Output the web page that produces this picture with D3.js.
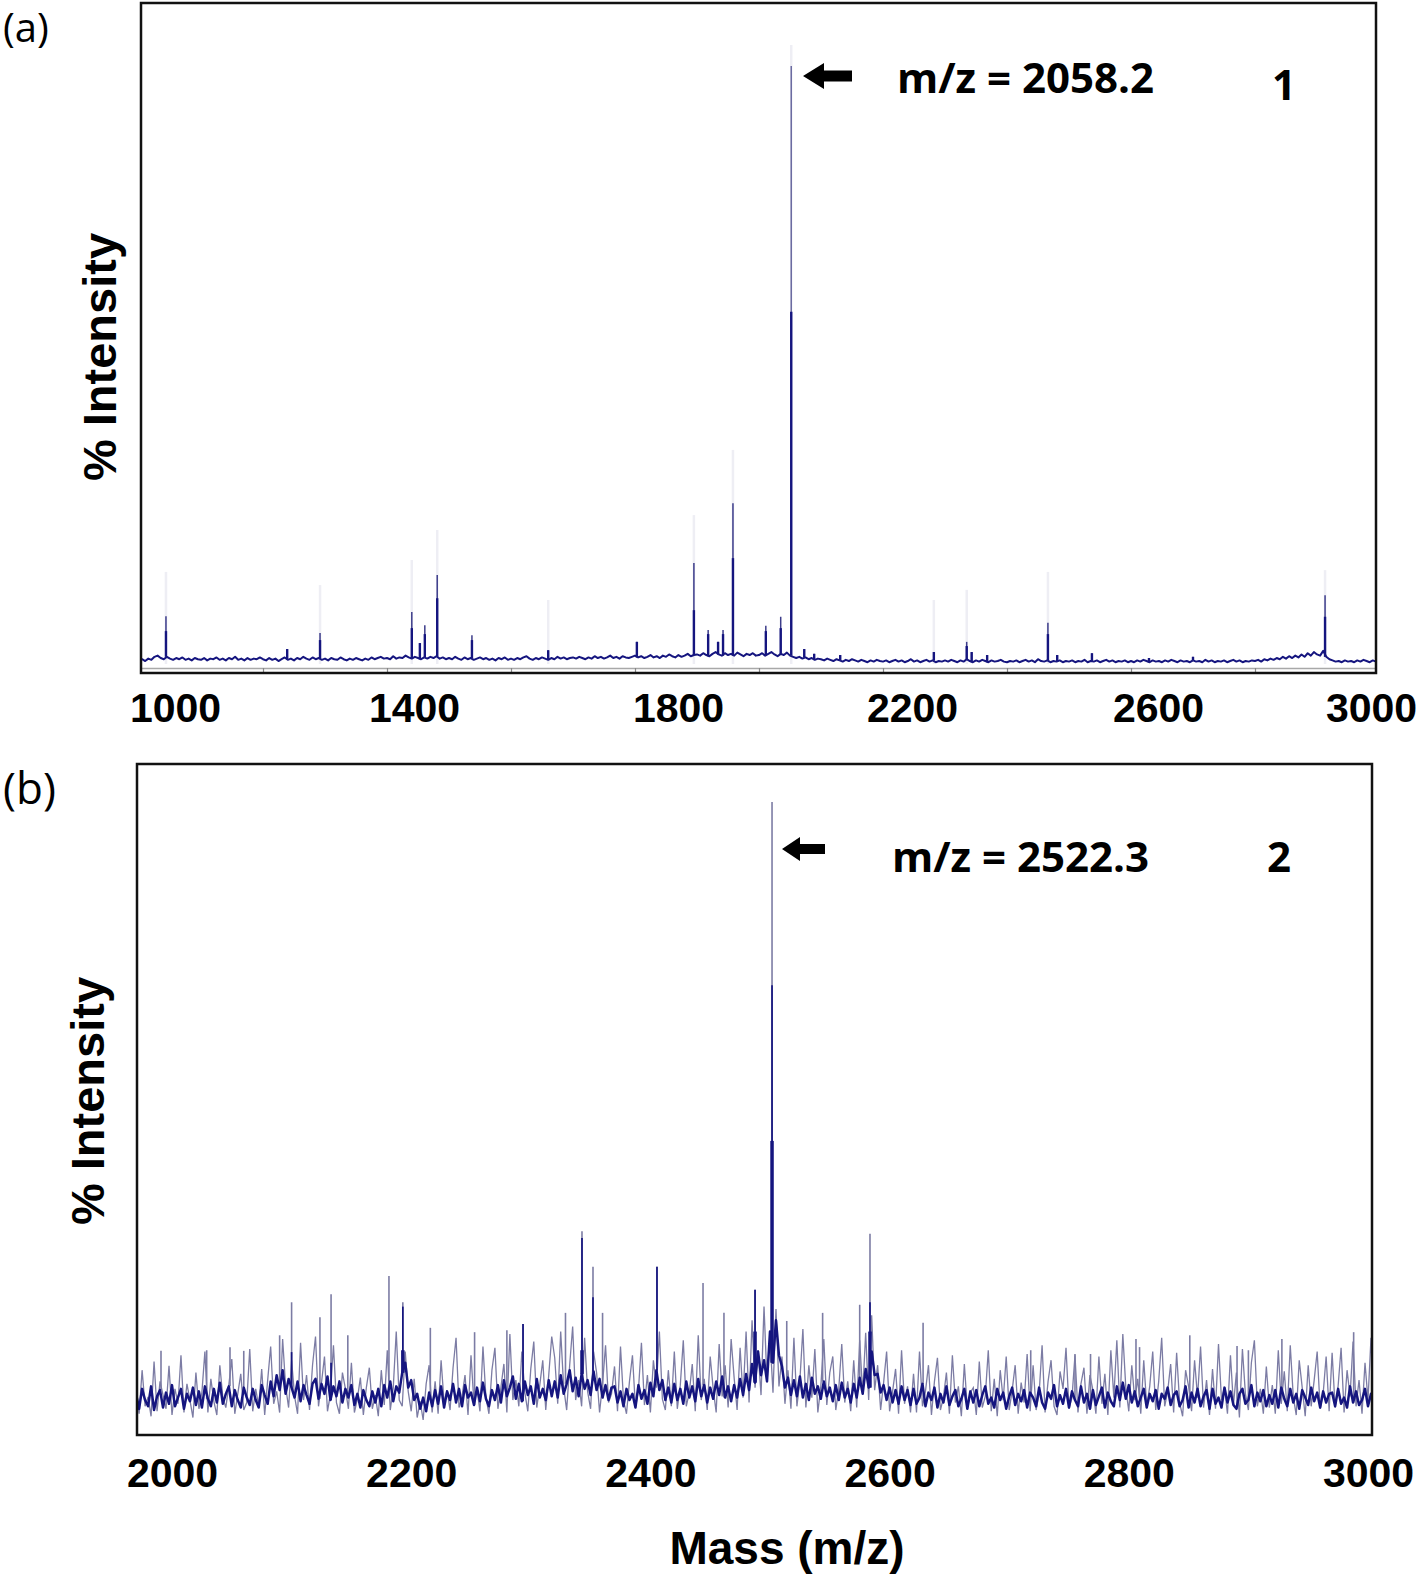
<!DOCTYPE html>
<html><head><meta charset="utf-8">
<script src="https://cdn.jsdelivr.net/npm/d3@7"></script>
<style>body{margin:0;background:#fff}svg{display:block}</style>
</head><body>
<svg id="c" width="1418" height="1576"></svg>
<script>
// ---------------- DATA ----------------
// Panel (a): tick labels of the printed axis
const aTicks = [1000, 1400, 1800, 2200, 2600, 3000];
// inner instrument axis ticks (unlabelled)
const aInnerTicks = [1200, 1400, 1600, 1800, 2000, 2200, 2400, 2600, 2800];
// baseline trace, m/z from 1000 step 5, intensity in per-mille of base peak
const aStart = 1000, aStep = 5;
const aBase = [
6,8,5,9,7,12,14,10,8,12,9,7,10,8,11,7,9,6,10,8,
7,10,6,9,8,11,7,9,6,10,8,12,7,9,6,10,7,9,8,11,
8,6,10,7,9,5,8,11,7,9,6,10,8,12,9,7,11,8,10,7,
9,6,10,8,7,11,8,6,9,7,10,8,6,9,7,11,8,10,12,9,
10,8,13,9,11,10,14,11,9,12,10,8,11,9,12,10,13,9,11,8,
10,8,12,9,7,11,8,10,7,9,11,8,10,7,9,6,10,8,11,7,
9,7,10,8,11,13,9,7,10,8,11,9,7,10,8,12,9,11,8,10,
11,9,12,10,8,11,9,13,10,12,9,11,14,10,12,9,13,11,10,12,
14,11,13,10,12,15,11,13,10,14,12,16,13,11,15,12,14,17,13,15,
16,14,18,15,13,17,20,16,14,18,15,17,14,19,16,13,17,15,18,14,
15,18,14,17,20,16,13,17,15,19,14,12,10,12,9,11,8,10,7,9,
8,6,9,7,5,8,6,4,7,5,8,6,4,7,5,3,6,4,7,5,
4,6,3,5,7,4,6,3,5,8,4,6,3,5,7,4,6,3,5,4,
6,4,7,5,3,6,4,8,5,3,6,4,7,5,3,6,4,5,7,4,
3,5,4,6,3,5,7,4,6,3,8,5,4,6,3,5,4,6,3,5,
4,6,3,5,4,7,3,5,4,6,3,5,7,4,6,3,5,4,6,3,
5,3,6,4,7,5,3,6,4,5,3,6,4,7,5,3,6,4,5,3,
6,4,5,3,7,4,6,3,5,4,6,3,5,7,4,6,3,5,4,6,
5,7,4,8,6,9,7,10,8,12,9,13,10,14,11,16,12,18,14,20,
16,14,22,12,8,6,4,5,3,6,4,5,3,6,4,7,5,3,6,4,
5];
// peaks of panel (a)
const aPeakMz   = [1043.5,1239,1292,1440,1453,1461,1481,1537,1660,1803,1895,1918,1934,1942,1958,2011,2035,2052,2073,2089,2131,2282,2335,2343,2368,2466,2481,2537,2629,2700,2913];
const aPeakRaw  = [80,25,52,87,35,65,149,48,23,37,169,57,37,57,269,64,79,1000,25,17,15,20,37,20,15,69,15,18,10,12,115];
const aPeakBold = [55,25,40,60,35,50,110,40,23,37,90,50,37,50,177,55,60,589,25,17,15,20,30,20,15,50,15,18,10,12,79];
// faint ghost traces above some peaks
const aGhostMz  = [1043.5,1292,1440,1481,1660,1895,1958,2052,2282,2335,2466,2913];
const aGhostTop = [154,132,174,224,107,249,358,1035,107,124,154,157];

// Panel (b)
const bTicks = [2000, 2200, 2400, 2600, 2800, 3000];
const bStart = 1970, bStep = 2.5;
const bNavy = [
50,26,58,40,30,62,24,46,56,28,52,34,64,30,44,58,26,50,38,60,
32,54,28,62,42,30,58,36,68,34,50,62,30,56,40,28,60,44,32,58,
40,28,64,48,34,70,46,80,56,88,50,74,60,44,70,38,64,48,34,66,
74,42,66,50,78,40,62,46,70,36,58,44,64,32,50,28,56,40,30,54,
36,58,30,64,44,70,38,62,52,84,100,60,72,40,50,26,44,22,52,30,
56,34,62,28,54,40,66,36,58,30,64,44,52,32,60,38,68,42,30,56,
40,64,36,72,46,60,78,42,66,38,70,48,62,34,74,44,58,40,72,46,
70,44,80,50,66,88,54,76,46,82,58,72,48,86,56,74,44,64,40,60,
62,36,54,30,58,40,50,28,64,42,56,34,68,46,88,56,72,40,60,36,
66,40,58,34,70,44,62,38,74,46,64,36,60,42,70,48,78,44,62,38,
64,44,74,48,82,56,98,68,118,80,104,70,150,100,168,112,94,60,76,48,
72,46,78,44,66,40,76,50,62,42,70,46,60,38,64,40,68,44,58,36,
66,44,76,50,90,60,118,80,82,52,64,40,60,36,56,34,62,40,56,32,
58,34,44,66,30,52,40,60,28,50,36,62,32,46,56,30,42,58,26,54,
36,56,30,48,62,34,44,28,58,40,52,26,46,60,32,50,38,56,28,52,
44,30,60,36,26,52,42,64,30,48,34,58,28,54,40,30,62,36,50,26,
56,32,46,60,28,52,38,30,62,40,68,42,64,36,54,30,44,58,28,50,
38,56,26,50,42,60,32,48,54,30,40,62,28,52,36,58,30,46,56,26,
58,34,44,28,60,36,54,32,26,50,58,34,40,64,30,52,38,56,30,48,
34,56,28,60,42,30,58,36,50,26,56,44,32,60,38,52,28,54,36,50,
52,30,58,34,44,28,62,36,54,32,40,58,30,50,36,56,28,52,34,46];
const bGray = [
62,18,88,30,45,14,102,22,70,48,26,95,16,58,34,112,20,66,40,12,
84,26,52,118,20,74,38,16,96,44,28,64,106,18,50,82,24,36,122,22,
58,30,90,16,72,126,34,54,20,138,62,28,104,46,18,132,40,80,24,96,
142,30,68,110,22,50,128,36,18,84,58,26,100,20,42,76,16,60,92,26,
48,14,88,32,120,24,60,150,40,30,118,54,22,74,12,38,8,66,96,20,
70,18,104,36,56,24,92,140,28,46,80,16,112,34,58,22,126,44,18,88,
124,26,60,98,20,146,40,72,30,118,52,22,90,134,28,64,104,24,80,142,
108,34,150,60,24,96,158,40,72,30,140,54,26,118,84,20,66,128,36,50,
94,22,126,40,18,70,112,28,56,132,32,80,20,104,60,150,42,24,88,30,
118,26,64,136,30,52,98,22,144,40,74,24,110,58,20,130,46,96,28,138,
76,24,124,44,150,36,168,60,120,48,190,70,140,52,186,62,110,34,88,26,
140,30,72,154,28,96,44,122,20,62,138,32,84,110,24,58,130,36,70,22,
104,28,136,50,148,40,176,56,96,24,68,118,22,54,90,18,120,34,62,20,
82,20,118,30,54,96,16,70,108,24,44,84,18,112,36,62,14,98,26,52,
60,16,102,28,46,120,22,74,14,88,40,110,24,56,96,18,68,36,114,22,
96,24,50,128,20,70,104,30,16,86,58,124,26,44,112,20,66,92,18,80,
56,18,110,34,82,16,120,44,136,28,146,60,22,96,40,74,18,104,30,62,
118,24,70,140,30,54,98,20,116,36,14,88,62,22,104,44,126,28,72,16,
90,26,130,40,60,18,112,32,84,12,122,50,24,100,136,30,58,18,94,28,
64,18,120,34,86,22,128,46,16,104,60,14,96,30,72,118,26,50,110,22,
116,28,62,124,20,88,46,134,30,72,18,100,40,140,26,66,108,24,82,30];
const bPeakMz   = [1990.8,2029,2048.5,2060,2090,2100,2123.7,2133,2147,2181.4,2193,2216,2253,2280,2293.5,2329,2342.8,2352,2360,2405.5,2444,2461.5,2487.5,2501.7,2514,2544,2575,2583.6,2628,2718,2755,2768,2806,2809,2851,2890.5,2900,2928,2988];
const bPeakGray = [119,120,125,119,144,197,173,210,144,239,197,156,149,152,162,180,311,254,180,254,228,180,217,1000,167,180,193,307,164,120,114,114,138,125,144,127,120,138,149];
const bPeakNavy = [0,0,0,0,0,117,0,100,0,0,190,0,0,0,162,0,300,205,0,254,0,0,217,706,0,0,0,197,0,0,0,0,0,0,0,0,0,0,0];
const bPeakBold = [0,0,0,0,0,0,0,0,0,0,120,0,0,0,0,0,120,0,0,0,0,0,150,456,0,0,0,150,0,0,0,0,0,0,0,0,0,0,0];

// annotations
const annA = {label: "m/z = 2058.2", num: "1"};
const annB = {label: "m/z = 2522.3", num: "2"};

// ---------------- DRAW ----------------
const svg = d3.select("#c");
const navy = "#15157f", grayC = "#7c7ca4", rawA = "#3c3c8a";
const tickFont = "'Liberation Sans', Arial, sans-serif";

const defs = svg.append("defs");
defs.append("clipPath").attr("id","clipA").append("rect").attr("x",142).attr("y",4).attr("width",1233).attr("height",668);
defs.append("clipPath").attr("id","clipB").append("rect").attr("x",138).attr("y",765).attr("width",1233).attr("height",669);

// ---- Panel A ----
const xA = d3.scaleLinear().domain([1000,3000]).range([139,1379]);
const xAlab = d3.scaleLinear().domain(aTicks).range([175,414,678,912,1158,1371]);
const yA = d3.scaleLinear().domain([0,1000]).range([664,66]);

const gA = svg.append("g").attr("clip-path","url(#clipA)");
const innerAx = gA.append("g").attr("transform","translate(0,668)")
  .call(d3.axisBottom(xA).tickValues(aInnerTicks).tickSize(4).tickSizeOuter(0).tickFormat(""));
innerAx.select(".domain").attr("stroke","#a8a8a8").attr("stroke-width",1.5);
innerAx.selectAll(".tick line").attr("stroke","#888").attr("stroke-width",1.2);

gA.selectAll("path.ghost").data(aGhostMz).join("path").attr("class","ghost")
  .attr("d",(m,i)=>d3.line()([[xA(m),yA(0)],[xA(m),yA(aGhostTop[i])]]))
  .attr("stroke","#eeeef4").attr("stroke-width",2.5);

const aPts = aBase.map((v,i)=>[aStart+i*aStep, v]);
const baseAt = m => aBase[Math.max(0,Math.min(aBase.length-1,Math.round((m-aStart)/aStep)))];
const lineA = d3.line().x(d=>xA(d[0])).y(d=>yA(d[1]));
gA.append("path").attr("d",lineA(aPts)).attr("fill","none").attr("stroke",navy).attr("stroke-width",2).attr("stroke-linejoin","round");
gA.selectAll("path.rawA").data(aPeakMz).join("path").attr("class","rawA")
  .attr("d",(m,i)=>lineA([[m,baseAt(m)],[m,aPeakRaw[i]]]))
  .attr("stroke",(m,i)=>aPeakRaw[i]>500?"#6a6aa0":rawA).attr("stroke-width",1.5);
gA.selectAll("path.boldA").data(aPeakMz).join("path").attr("class","boldA")
  .attr("d",(m,i)=>lineA([[m,baseAt(m)],[m,aPeakBold[i]]]))
  .attr("stroke",navy).attr("stroke-width",2.4);

svg.append("rect").attr("x",141).attr("y",3).attr("width",1235).attr("height",670)
  .attr("fill","none").attr("stroke","#111").attr("stroke-width",2.5);

const axA = svg.append("g").attr("transform","translate(0,673)")
  .call(d3.axisBottom(xAlab).tickValues(aTicks).tickSize(0).tickFormat(d3.format("d")));
axA.select(".domain").remove();
axA.selectAll("text").attr("y",49).attr("dy",null).attr("fill","#000")
  .style("font-family",tickFont).style("font-weight","bold").style("font-size","41px");

// ---- Panel B ----
const xB = d3.scaleLinear().domain([2000,3000]).range([172,1368]);
const yB = d3.scaleLinear().domain([0,1000]).range([1425,802]);
const gB = svg.append("g").attr("clip-path","url(#clipB)");
const lineB = d3.line().x(d=>xB(d[0])).y(d=>yB(d[1]));
const bGrayPts = bGray.map((v,i)=>[bStart+i*bStep, v]);
const bNavyPts = bNavy.map((v,i)=>[bStart+i*bStep, v]);
const bBaseAt = m => bNavy[Math.max(0,Math.min(bNavy.length-1,Math.round((m-bStart)/bStep)))];

gB.append("path").attr("d",lineB(bGrayPts)).attr("fill","none").attr("stroke",grayC).attr("stroke-width",1.3);
gB.selectAll("path.gp").data(bPeakMz).join("path").attr("class","gp")
  .attr("d",(m,i)=>lineB([[m,bBaseAt(m)],[m,bPeakGray[i]]]))
  .attr("stroke",grayC).attr("stroke-width",1.6);
gB.append("path").attr("d",lineB(bNavyPts)).attr("fill","none").attr("stroke",navy).attr("stroke-width",2.5).attr("stroke-linejoin","round");
gB.selectAll("path.np").data(bPeakMz.filter((m,i)=>bPeakNavy[i]>0)).join("path").attr("class","np")
  .attr("d",m=>{const i=bPeakMz.indexOf(m);return lineB([[m,bBaseAt(m)],[m,bPeakNavy[i]]]);})
  .attr("stroke",navy).attr("stroke-width",1.7);
gB.selectAll("path.bp").data(bPeakMz.filter((m,i)=>bPeakBold[i]>0)).join("path").attr("class","bp")
  .attr("d",m=>{const i=bPeakMz.indexOf(m);return lineB([[m,bBaseAt(m)],[m,bPeakBold[i]]]);})
  .attr("stroke",navy).attr("stroke-width",3.5);

svg.append("rect").attr("x",137).attr("y",764).attr("width",1235).attr("height",671)
  .attr("fill","none").attr("stroke","#111").attr("stroke-width",2.5);

const axB = svg.append("g").attr("transform","translate(0,1435)")
  .call(d3.axisBottom(xB).tickValues(bTicks).tickSize(0).tickFormat(d3.format("d")));
axB.select(".domain").remove();
axB.selectAll("text").attr("y",52).attr("dy",null).attr("fill","#000")
  .style("font-family",tickFont).style("font-weight","bold").style("font-size","41px");

// ---- titles ----
function ylab(x,y,t){
  svg.append("text").attr("transform",`translate(${x},${y}) rotate(-90)`).attr("text-anchor","middle")
    .style("font-family",tickFont).style("font-weight","bold").style("font-size","47px").text(t);
}
ylab(116,357,"% Intensity");
ylab(104,1101,"% Intensity");
svg.append("text").attr("x",787).attr("y",1564).attr("text-anchor","middle")
  .style("font-family",tickFont).style("font-weight","bold").style("font-size","46px").text("Mass (m/z)");

svg.append("text").attr("x",3).attr("y",42).style("font-family","'Open Sans', sans-serif").style("font-size","40px").text("(a)");
svg.append("text").attr("x",3).attr("y",804).style("font-family","'Open Sans', sans-serif").style("font-size","44px").text("(b)");

// ---- annotations ----
function arrow(tip, end, cy, hh, hl, st){
  const p = d3.path();
  p.moveTo(tip, cy);
  p.lineTo(tip+hl, cy-hh/2);
  p.lineTo(tip+hl, cy-st/2);
  p.lineTo(end, cy-st/2);
  p.lineTo(end, cy+st/2);
  p.lineTo(tip+hl, cy+st/2);
  p.lineTo(tip+hl, cy+hh/2);
  p.closePath();
  svg.append("path").attr("d",p.toString()).attr("fill","#000");
}
arrow(803, 852, 76, 26, 21, 11);
arrow(782, 825, 849, 24, 18, 10);
const annFont = "'Open Sans', sans-serif";
svg.append("text").attr("x",897).attr("y",93).style("font-family",annFont).style("font-weight","bold").style("font-size","42px").text(annA.label);
svg.append("text").attr("x",1284).attr("y",100).attr("text-anchor","middle").style("font-family",annFont).style("font-weight","bold").style("font-size","42px").text(annA.num);
svg.append("text").attr("x",892).attr("y",872).style("font-family",annFont).style("font-weight","bold").style("font-size","42px").text(annB.label);
svg.append("text").attr("x",1279).attr("y",872).attr("text-anchor","middle").style("font-family",annFont).style("font-weight","bold").style("font-size","42px").text(annB.num);
</script></body></html>
